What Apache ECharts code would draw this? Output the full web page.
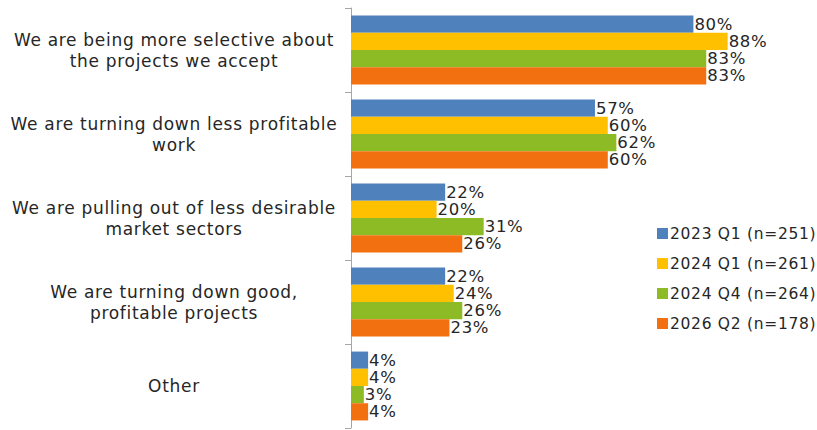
<!DOCTYPE html>
<html>
<head>
<meta charset="utf-8">
<script src="https://cdn.jsdelivr.net/npm/echarts@6/dist/echarts.min.js"></script>
<style>
  html, body { margin: 0; padding: 0; background: #fff; }
  #chart { width: 817px; height: 430px; }
  /* wide, airy lettering for every label */
  #chart svg text { letter-spacing: 0.7px; }
</style>
</head>
<body>
<div id="chart"></div>
<script>
// Reasons given, one bar group each
const categories = [
  'We are being more selective about\nthe projects we accept',
  'We are turning down less profitable\nwork',
  'We are pulling out of less desirable\nmarket sectors',
  'We are turning down good,\nprofitable projects',
  'Other'
];

const seriesNames = [
  '2023 Q1 (n=251)',
  '2024 Q1 (n=261)',
  '2024 Q4 (n=264)',
  '2026 Q2 (n=178)'
];

// Share of respondents, percent
const q1_2023 = [80, 57, 22, 22, 4];
const q1_2024 = [88, 60, 20, 24, 4];
const q4_2024 = [83, 62, 31, 26, 3];
const q2_2026 = [83, 60, 26, 23, 4];

const values = [q1_2023, q1_2024, q4_2024, q2_2026];
const colors = ['#4F81BD', '#FFC000', '#8DBB25', '#F2700F'];

const fontFamily = '"Century Gothic", "DejaVu Sans", sans-serif';

const chart = echarts.init(document.getElementById('chart'), null, { renderer: 'svg' });

chart.setOption({
  animation: false,
  textStyle: { fontFamily: fontFamily },
  grid: { left: 351, right: 38, top: 8, bottom: 2, containLabel: false },
  legend: {
    orient: 'vertical',
    left: 652,
    top: 219,
    itemWidth: 11,
    itemHeight: 11,
    itemGap: 11,
    itemStyle: { borderWidth: 0 },
    icon: 'rect',
    data: seriesNames,
    textStyle: { fontSize: 15.5, lineHeight: 19, color: '#262626', fontFamily: fontFamily, padding: [0, 0, 0, -3] }
  },
  xAxis: {
    type: 'value',
    min: 0,
    max: 100,
    show: false
  },
  yAxis: {
    type: 'category',
    inverse: true,
    data: categories,
    axisLine: { show: true, lineStyle: { color: '#a6a6a6', width: 1 } },
    axisTick: { show: true, length: 6, lineStyle: { color: '#a6a6a6' } },
    axisLabel: {
      align: 'center',
      margin: 177,
      fontSize: 17,
      lineHeight: 21,
      color: '#262626',
      fontFamily: fontFamily
    }
  },
  series: seriesNames.map((name, i) => ({
    name: name,
    type: 'bar',
    data: values[i],
    barGap: '0%',
    barCategoryGap: '18%',
    itemStyle: { color: colors[i] },
    label: {
      show: true,
      position: 'right',
      distance: 1,
      formatter: '{c}%',
      fontSize: 16.5,
      color: '#262626',
      fontFamily: fontFamily
    }
  }))
});
</script>
</body>
</html>
